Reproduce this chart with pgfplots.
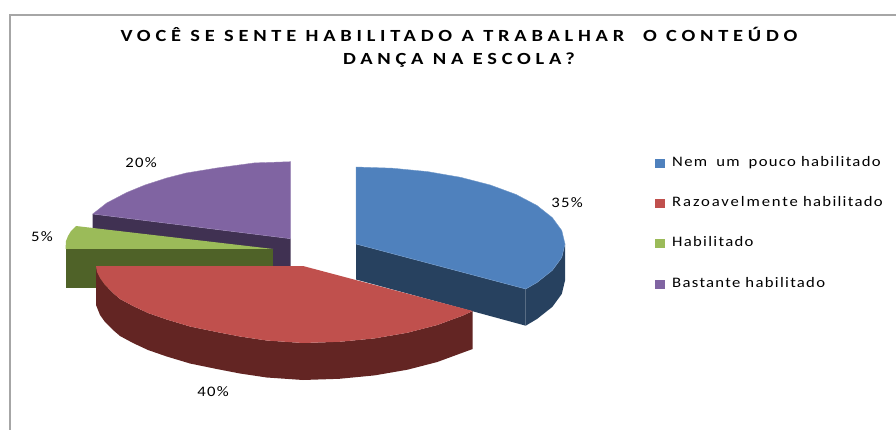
\documentclass[border=0pt]{standalone}
\usepackage{fontspec}
\setmainfont[LetterSpace=12,FakeStretch=1.15]{Carlito}
\usepackage{pgfplots}
\pgfplotsset{compat=1.18}
\definecolor{blueT}{HTML}{4F81BD}\definecolor{blueS}{HTML}{27415F}
\definecolor{redT}{HTML}{C0504D}\definecolor{redS}{HTML}{632523}
\definecolor{greenT}{HTML}{9BBB59}\definecolor{greenS}{HTML}{4F6228}
\definecolor{purpleT}{HTML}{8064A2}\definecolor{purpleS}{HTML}{403152}
\definecolor{frame}{HTML}{A6A6A6}
\newcommand{\lblfont}{\fontsize{14.5}{16}\selectfont\addfontfeatures{LetterSpace=9,FakeStretch=1.15}}
\begin{document}
\begin{tikzpicture}
\begin{axis}[
  name=ax,
  width=896pt,height=430pt,scale only axis,
  xmin=0,xmax=896,ymin=0,ymax=430,y dir=reverse,
  hide axis,clip=false,
  title={VOCÊ SE SENTE HABILITADO A TRABALHAR\ \ O CONTEÚDO\\DANÇA NA ESCOLA?},
  title style={at={(axis cs:459,53.5)},anchor=center,align=center,inner sep=0pt,
    font=\bfseries\fontsize{17}{23}\selectfont\addfontfeatures{LetterSpace=28,FakeStretch=1.2}},
  legend style={at={(axis cs:653,155)},anchor=north west,draw=none,fill=none,
    font=\lblfont,row sep=28.3pt,inner sep=2pt,
    nodes={inner sep=0pt,anchor=west,text height=9pt,text depth=3pt}},
  legend cell align=left,
  legend image code/.code={\path[#1,draw=none] (0pt,-4.5pt) rectangle (10pt,4.5pt);},
]
% frame
\addplot[frame,line width=1.4pt,forget plot] coordinates {(10,430)(10,15)(896,15)};
% purple side
\addplot[purpleS,fill=purpleS,draw=none,forget plot] coordinates {(92.7,214)(290.7,238.7)(290.7,270)(92.7,250)} -- cycle;
% blue side (cut face and rim)
\addplot[blueS,fill=blueS,draw=none,forget plot] coordinates {(356,244)(525.7,289)(525.7,325.7)(356,279.5)} -- cycle;
\addplot[blueS,fill=blueS,draw=none,forget plot] coordinates {(565,244)(561.8,257.4)(552.4,270.3)(537,282.5)(525.7,289)(525.7,325.7)(537,319)(552.4,306.8)(561.8,293.9)(565,280.5)} -- cycle;
% green side
\addplot[greenS,fill=greenS,draw=none,forget plot] coordinates {(65.5,249)(273.3,249)(273.3,288)(65.5,288)} -- cycle;
% red side
\addplot[redS,fill=redS,draw=none,forget plot] coordinates {(472.7,311)(463.1,315.5)(437.3,325)(407.5,332.7)(374.5,338.4)(339.3,341.8)(303,343)(266.7,340.5)(240,336.5)(216.7,332)(190,326.5)(166.7,319.5)(148,313)(133,306)(120,299)(113,293)(105,285)(100,278)(97,272)(96,266)(96,305)(100,315)(105,322)(113,330)(120,336)(133,343)(148,350)(166.7,356.5)(190,363.5)(216.7,369)(240,373.5)(266.7,377.5)(303,380)(339.3,378.8)(374.5,375.4)(407.5,369.7)(437.3,362)(463.1,352.5)(472.7,349)} -- cycle;
% top faces
\addplot[fill=blueT,draw=blueT!80!white,line width=0.4pt] coordinates {(356,244)(356,167)(392.3,168.2)(427.5,171.6)(460.5,177.3)(490.3,185)(516.1,194.5)(537,205.5)(552.4,217.7)(561.8,230.6)(565,244)(561.8,257.4)(552.4,270.3)(537,282.5)(525.7,289)} -- cycle;
\addlegendentry{\hspace*{7pt}Nem\hspace{4pt} um\hspace{4pt} pouco habilitado}
\addplot[fill=redT,draw=none] coordinates {(96,266)(303,266)(472.7,311)(463.1,315.5)(437.3,325)(407.5,332.7)(374.5,338.4)(339.3,341.8)(303,343)(266.7,340.5)(240,336.5)(216.7,332)(190,326.5)(166.7,319.5)(148,313)(133,306)(120,299)(113,293)(105,285)(100,278)(97,272)} -- cycle;
\addlegendentry{\hspace*{7pt}{\addfontfeatures{LetterSpace=13}Razoavelmente} habilitado}
\addplot[fill=greenT,draw=none] coordinates {(76,226)(273.3,249)(65.5,249)(66,241)(68,236)(71,231)} -- cycle;
\addlegendentry{\hspace*{7pt}Habilitado}
\addplot[fill=purpleT,draw=purpleT!80!white,line width=0.4pt] coordinates {(290.7,238.7)(290.7,161.7)(254.4,162.9)(216.7,168)(186.2,173)(166.7,178)(145,185)(126.7,192.5)(106.7,203)(92.7,214)} -- cycle;
\addlegendentry{\hspace*{7pt}Bastante habilitado}
% data labels
\node[font=\lblfont] at (axis cs:567,203) {35\%};
\node[font=\lblfont] at (axis cs:141,163) {20\%};
\node[font=\lblfont] at (axis cs:42,237) {5\%};
\node[font=\lblfont] at (axis cs:213,392) {40\%};
\end{axis}
\pgfresetboundingbox
\useasboundingbox (ax.south west) rectangle (ax.north east);
\end{tikzpicture}
\end{document}
